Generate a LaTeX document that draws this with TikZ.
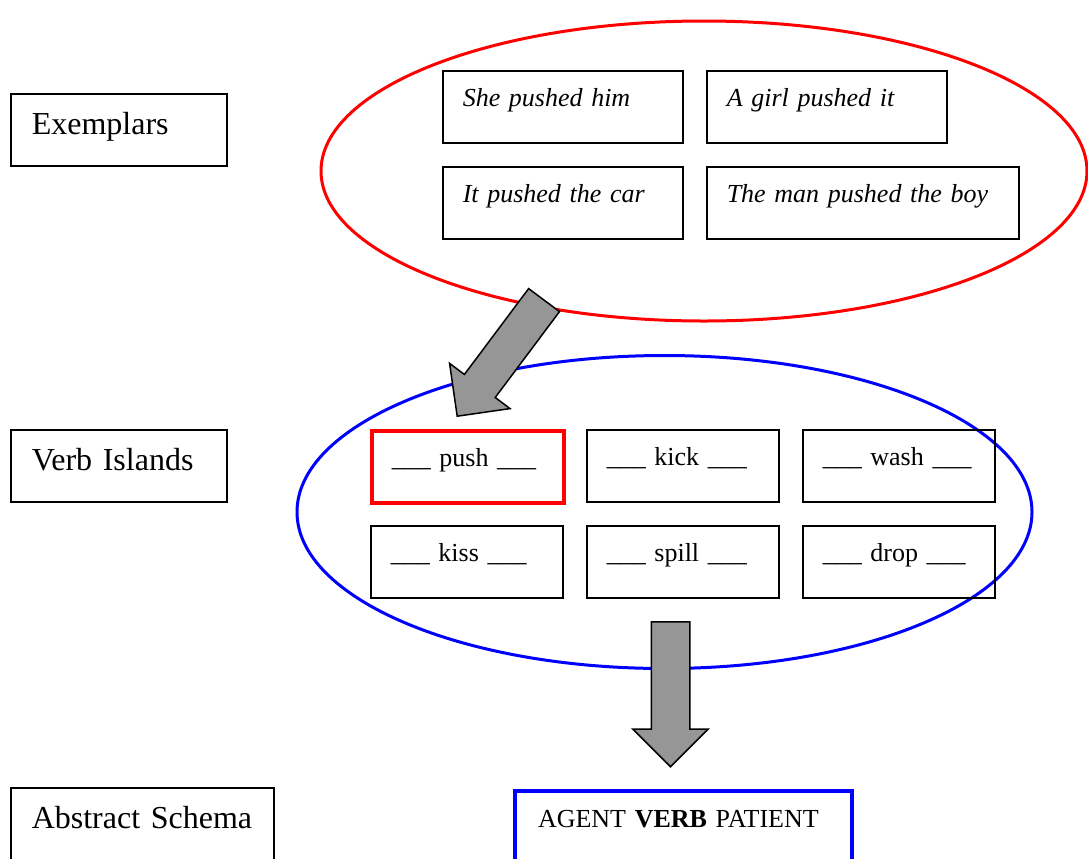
\documentclass[tikz,border=0pt]{standalone}
\usepackage{fontspec}
\setmainfont{Liberation Serif}
\usetikzlibrary{shapes.geometric, shapes.arrows, positioning}
\definecolor{arrowgray}{RGB}{150,150,150}
\newcommand{\levelfont}{\fontsize{16}{19}\selectfont}
\newcommand{\itemfont}{\fontsize{13}{16}\selectfont}

\begin{document}
\begin{tikzpicture}[x=0.5pt, y=-0.5pt, node distance=11.25pt,
        levelbox/.style={draw, line width=0.75pt, anchor=north west, inner xsep=10.5pt, inner ysep=0pt, text height=20.5pt, text depth=15.5pt, align=left, font=\levelfont},
        itembox/.style={draw, line width=0.75pt, anchor=north west, inner xsep=10pt, inner ysep=0pt, text height=18pt, text depth=18pt, align=left, font=\itemfont},
        verbbox/.style={itembox, text width=76pt},
        cluster/.style={ellipse, draw, line width=1.5pt, inner sep=0pt},
        bigarrow/.style={single arrow, draw=black, line width=0.75pt, fill=arrowgray, single arrow head extend=9.25pt, single arrow tip angle=90, minimum height=72.5pt, inner xsep=0pt, inner ysep=9.25pt, anchor=tail}]
        \useasboundingbox (0,0) rectangle (1088,858);

        \node (exemplars) [levelbox, text width=87pt] at (10,93) {Exemplars};
        \node (islands) [levelbox, text width=87pt] at (10,429) {Verb Islands};
        \node (schema) [levelbox, text width=110.5pt] at (10,787) {Abstract Schema};

        \node (exset) [cluster, draw=red, minimum width=383pt, minimum height=150pt] at (704,171) {};
        \node (s1) [itembox, text width=100pt] at (442,70) {\textit{She pushed him}};
        \node (s2) [itembox, text width=100pt, right=of s1] {\textit{A girl pushed it}};
        \node (s3) [itembox, text width=100pt, below=of s1] {\textit{It pushed the car}};
        \node (s4) [itembox, text width=136pt, below=of s2.south west, anchor=north west] {\textit{The man pushed the boy}};

        \node (islandset) [cluster, draw=blue, minimum width=367.5pt, minimum height=156.5pt] at (664.5,512) {};
        \node (push) [verbbox, draw=red, line width=1.75pt] at (370,429) {\_\_\_ push \_\_\_};
        \node (kick) [verbbox] at (586,429) {\_\_\_ kick \_\_\_};
        \node (wash) [verbbox] at (802,429) {\_\_\_ wash \_\_\_};
        \node (kiss) [verbbox] at (370,525) {\_\_\_ kiss \_\_\_};
        \node (spill) [verbbox] at (586,525) {\_\_\_ spill \_\_\_};
        \node (drop) [verbbox] at (802,525) {\_\_\_ drop \_\_\_};

        \node (pattern) [itembox, draw=blue, line width=2pt, inner xsep=11.5pt, text width=145.5pt] at (513,789) {AGENT \textbf{VERB} PATIENT};

        \node (toislands) [bigarrow, rotate=233.2] at (544.5,299.5) {};
        \node (toschema) [bigarrow, rotate=-90] at (670.5,621) {};
    \end{tikzpicture}
\end{document}
